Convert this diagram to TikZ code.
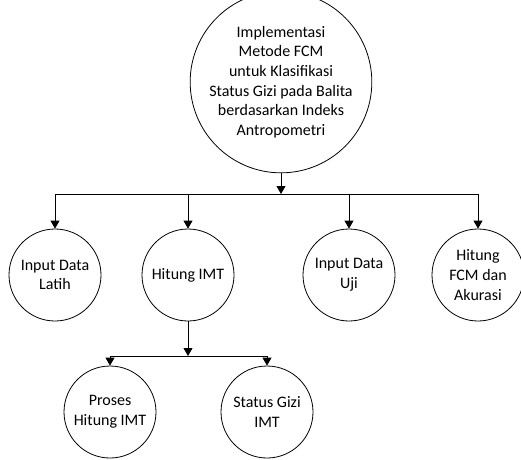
\documentclass[tikz,border=0pt]{standalone}
\usepackage{fontspec}
\setmainfont{Carlito}
\usetikzlibrary{arrows.meta}
\begin{document}
\begin{tikzpicture}[x=1pt,y=-1pt,
  proc/.style={circle,draw=black,line width=0.8pt,minimum size=92pt,inner sep=0pt,align=center,
    font=\fontsize{16}{19.6}\selectfont},
  big/.style={proc,minimum width=149pt,minimum height=154pt,ellipse},
  arr/.style={line width=0.8pt,-{Triangle[width=9pt,length=8pt]}}]
\useasboundingbox (0,0) rectangle (521,459);
\node[proc,minimum size=150pt] (top) at (281,82) {Implementasi\\Metode FCM\\untuk Klasifikasi\\Status Gizi pada Balita\\berdasarkan Indeks\\Antropometri};
\node[proc] (a) at (55,275) {Input Data\\Latih};
\node[proc] (b) at (188,275) {Hitung IMT};
\node[proc] (c) at (349,275) {Input Data\\Uji};
\node[proc] (d) at (478,275) {Hitung\\FCM dan\\Akurasi};
\node[proc] (e) at (110,412) {Proses\\Hitung IMT};
\node[proc] (f) at (267,412) {Status Gizi\\IMT};
\coordinate (j1) at (281,194);
\coordinate (j2) at (188,356);
\draw[arr] (top.south) -- (j1);
\draw[arr] (j1) -| (a.north);
\draw[arr] (j1) -| (b.north);
\draw[arr] (j1) -| (c.north);
\draw[arr] (j1) -| (d.north);
\draw[arr] (b.south) -- (j2);
\draw[arr] (j2) -| (e.north);
\draw[arr] (j2) -| (f.north);
\end{tikzpicture}
\end{document}
